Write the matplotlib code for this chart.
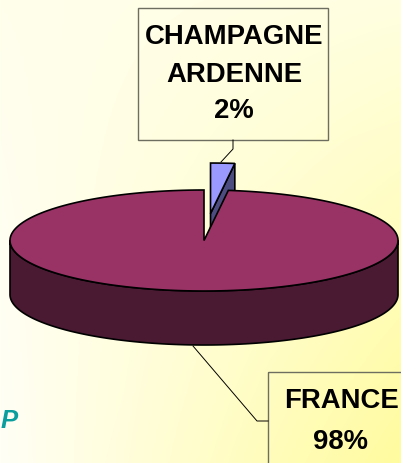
import numpy as np
import matplotlib
matplotlib.use("Agg")
import matplotlib.pyplot as plt
from matplotlib.patches import Polygon, Rectangle

# data
regions = ["CHAMPAGNE\nARDENNE", "FRANCE"]
shares = [2, 98]
pct_text = ["2%", "98%"]
explode = [0.535, 0.0]

# style / layout (pixel coordinates of a 401x464 canvas)
W, H = 401, 464
CX, CY, A, B, DEPTH = 204.0, 241.5, 194.0, 50.5, 54.0
TOP = ["#9999FF", "#993366"]
SIDE = ["#4C4C80", "#4A1A33"]
FONT = "Liberation Sans"

fig = plt.figure(figsize=(W / 100, H / 100), dpi=100)
ax = fig.add_axes([0, 0, 1, 1])
ax.set_xlim(0, W)
ax.set_ylim(H, 0)
ax.axis("off")

# background gradient: pale on the left, yellow towards the lower right
tl, tr = np.array([1, 1, 0.925]), np.array([1, 1, 0.88])
bl, br = np.array([1, 1, 0.965]), np.array([1, 0.985, 0.62])
u = np.linspace(0, 1, W)[None, :, None]
v = np.linspace(0, 1, H)[:, None, None]
bg = (1 - v) * ((1 - u) * tl + u * tr) + v * ((1 - u) * bl + u * br)
ax.imshow(bg, extent=(0, W, H, 0), zorder=0, aspect="auto")


def rim(phi, ox=0.0, oy=0.0, dz=0.0):
    # point on the ellipse, phi measured clockwise from 12 o'clock
    return np.column_stack([CX + ox + A * np.sin(phi), CY + oy + dz - B * np.cos(phi)])


bounds = np.radians(np.concatenate([[0], np.cumsum(shares)]) / sum(shares) * 360)
z = 2
for i in range(len(shares)):
    s, e = bounds[i], bounds[i + 1]
    mid = (s + e) / 2
    ox, oy = explode[i] * A * np.sin(mid), -explode[i] * B * np.cos(mid)
    c = np.array([[CX + ox, CY + oy]])

    # outer wall, front half only
    lo, hi = max(s, np.pi / 2), min(e, 3 * np.pi / 2)
    if lo < hi:
        ph = np.linspace(lo, hi, 200)
        wall = np.vstack([rim(ph, ox, oy), rim(ph[::-1], ox, oy, DEPTH)])
        ax.add_patch(Polygon(wall, closed=True, fc=SIDE[i], ec="black", lw=1.2, zorder=z))

    # radial face on the clockwise edge when it faces the viewer
    if np.cos(e) > 0 and e < np.pi:
        r = rim(np.array([e]), ox, oy)
        face = np.vstack([c, r, r + [0, DEPTH], c + [0, DEPTH]])
        ax.add_patch(Polygon(face, closed=True, fc=SIDE[i], ec="black", lw=1.2, zorder=z))

    ph = np.linspace(s, e, max(int(np.degrees(e - s)) * 2, 10))
    top = np.vstack([c, rim(ph, ox, oy)])
    ax.add_patch(Polygon(top, closed=True, fc=TOP[i], ec="black", lw=1.2, zorder=z + 1))
    z += 2

# label boxes and leader lines
ax.add_patch(Rectangle((138, 9), 190, 132, fill=False, ec="#6E6E60", lw=1.0, zorder=10))
ax.plot([233, 233, 221], [141, 150, 163], color="black", lw=0.7, zorder=10)
ax.add_patch(Rectangle((268, 373), 160, 120, fill=False, ec="#6E6E60", lw=1.0, zorder=10))
ax.plot([193, 257, 268], [347, 422, 422], color="black", lw=0.7, zorder=10)

tk = dict(ha="center", va="center", fontsize=19.8, fontweight="bold",
          family=FONT, color="black", zorder=11)
name0 = regions[0].split("\n")
ax.text(234, 37, name0[0], **tk)
ax.text(234, 74.5, name0[1], **tk)
ax.text(234, 111, pct_text[0], **tk)
ax.text(341, 401, regions[1], fontstretch="expanded", **tk)
ax.text(341, 442, pct_text[1], **tk)

ax.text(18, 421, "P", ha="right", va="center", fontsize=18.5, fontweight="bold",
        style="italic", family=FONT, color="#0A9E9E", zorder=11)

fig.savefig("out.png", dpi=100)
